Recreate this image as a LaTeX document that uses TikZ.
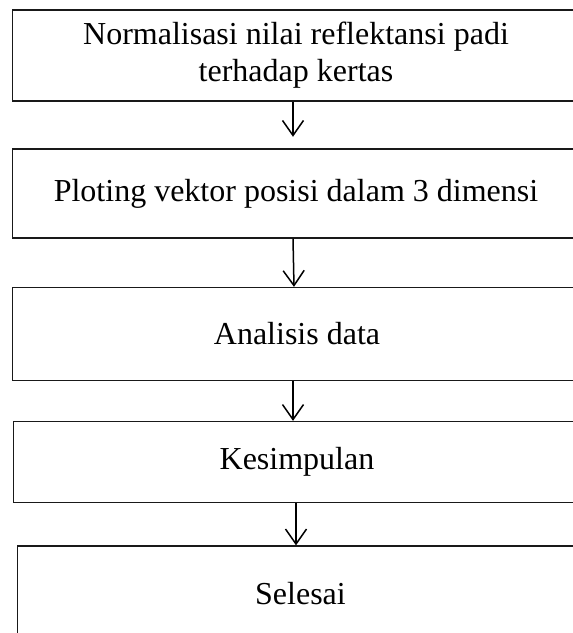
\documentclass[tikz,border=0pt]{standalone}
\usepackage{fontspec}
\setmainfont{Liberation Serif}
\usetikzlibrary{arrows.meta}
\begin{document}
\begin{tikzpicture}[x=1pt,y=1pt,
  flowbox/.style={draw=black!90, line width=1.3pt, rectangle, inner sep=0pt,
    align=center, font=\fontsize{32}{36.8}\selectfont},
  flowarrow/.style={draw=black, line width=1.5pt,
    -{Straight Barb[length=15pt,width=21pt]}}]
\useasboundingbox (0,0) rectangle (573,-633);
\clip (0,0) rectangle (573,-633);
\node[flowbox, minimum width=566.6pt, minimum height=91pt] (b1) at (296,-55.5)
  {Normalisasi nilai reflektansi padi\\terhadap kertas};
\node[flowbox, minimum width=566.6pt, minimum height=89pt] (b2) at (296,-193.5)
  {Ploting vektor posisi dalam 3 dimensi};
\node[flowbox, minimum width=568.6pt, minimum height=93pt] (b3) at (297,-334)
  {Analisis data};
\node[flowbox, minimum width=566.4pt, minimum height=81pt] (b4) at (297,-462)
  {Kesimpulan};
\node[flowbox, minimum width=566.4pt, minimum height=96pt] (b5) at (300.5,-594)
  {Selesai};
\draw[flowarrow, shorten >=11.6pt] ([xshift=-3pt]b1.south) -- ([xshift=-3pt]b2.north);
\draw[flowarrow] ([xshift=-3pt]b2.south) -- ([xshift=-3pt]b3.north);
\draw[flowarrow] ([xshift=-4pt]b3.south) -- ([xshift=-4pt]b4.north);
\draw[flowarrow] ([xshift=-1pt]b4.south) -- ([xshift=-4.5pt]b5.north);
\end{tikzpicture}
\end{document}
